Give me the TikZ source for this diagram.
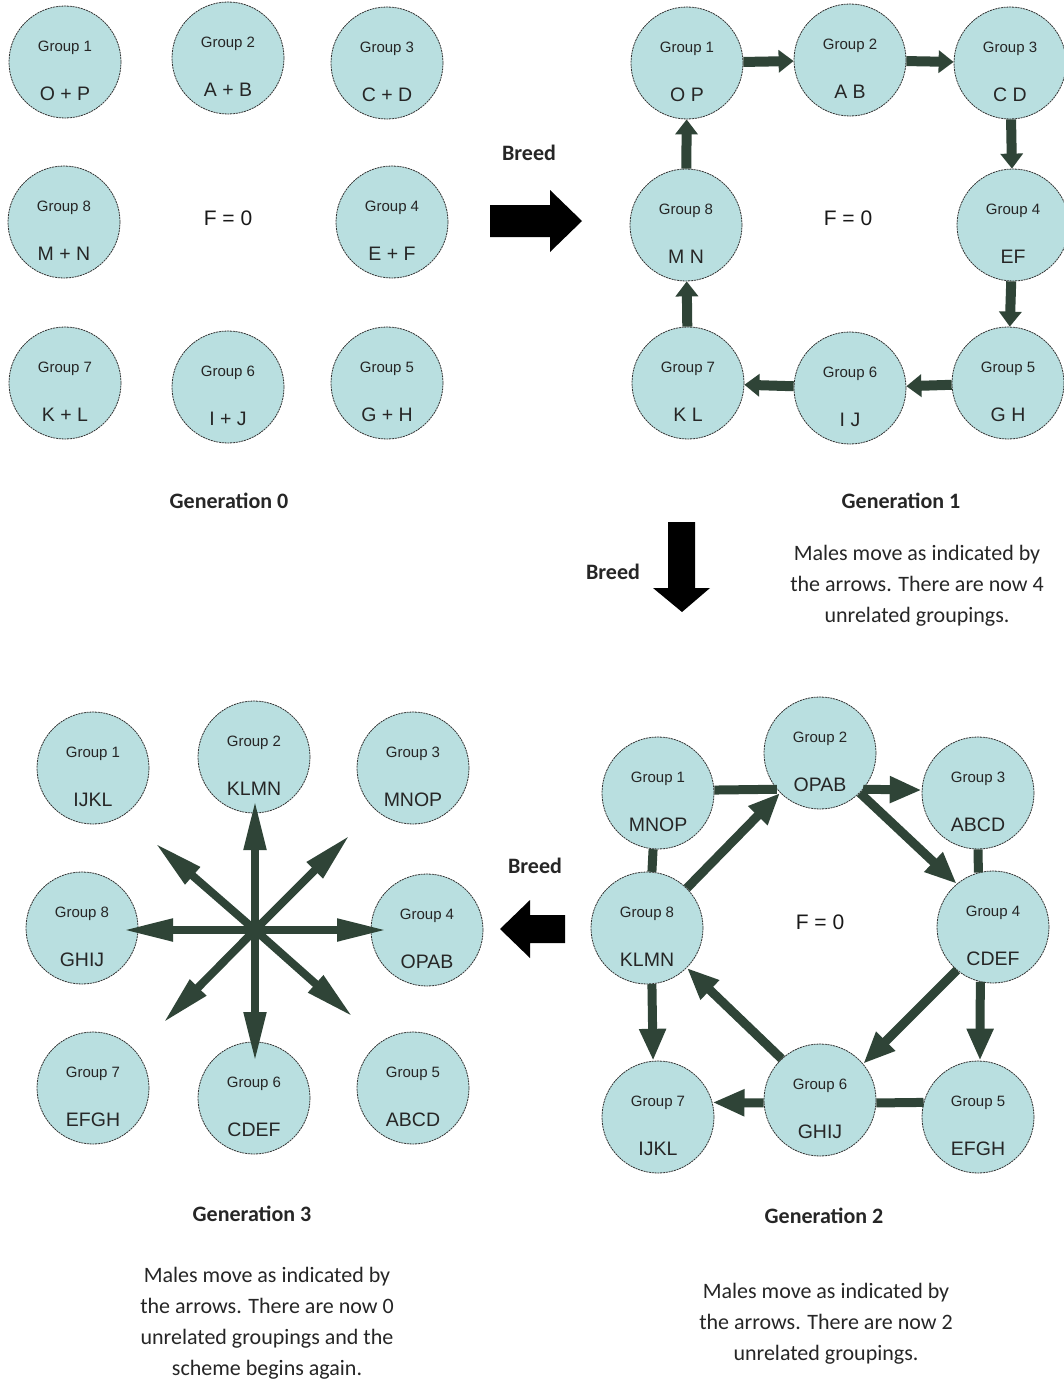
\documentclass[tikz,border=0pt]{standalone}
\usepackage{fontspec}
\setmainfont{Liberation Sans}
\newfontfamily\calibri{Carlito}
\usetikzlibrary{arrows.meta,calc}
\definecolor{cfill}{HTML}{B9DFE0}
\definecolor{ag}{HTML}{2F4437}
\newcommand\grp[5]{%
  \node[grp] (#1) at (#2,#3) {};
  \node[gl] (#1t) at ($(#1)+(0,-14)$) {Group #4};
  \node[ll] (#1l) at ($(#1)+(0,32)$) {#5};
}
\begin{document}
\begin{tikzpicture}[x=1pt,y=-1pt,
  grp/.style={circle, draw=black!80, line width=0.8pt, dash pattern=on 2pt off 0.8pt, fill=cfill, minimum size=112pt, inner sep=0pt},
  gl/.style={font=\fontsize{15}{15}\selectfont, text=black!85, inner sep=0pt},
  ll/.style={font=\fontsize{19.5}{19.5}\selectfont, text=black!85, inner sep=0pt},
  fone/.style={draw=ag, line width=10pt, -{Triangle[length=15pt,width=22pt]}},
  ftwo/.style={draw=ag, line width=9pt, -{Triangle[length=32pt,width=25pt]}},
  bar/.style={draw=ag, line width=9pt},
  ray/.style={draw=ag, line width=8pt, -{Triangle[length=50pt,width=21pt]}},
  feq/.style={font=\fontsize{21}{21}\selectfont, text=black!90},
  capt/.style={font=\calibri\bfseries\fontsize{22}{22}\selectfont, text=black!85},
  para/.style={font=\calibri\fontsize{22}{31}\selectfont, align=center, text=black!85},
  bigarrow/.style={fill=black}
]
\useasboundingbox (0,0) rectangle (1064,1381);
\fill[white] (0,0) rectangle (1064,1381);

% ---------- Generation 0 ----------
\grp{z1}{65}{62}{1}{O + P}
\grp{z2}{228}{58}{2}{A + B}
\grp{z3}{387}{63}{3}{C + D}
\grp{z8}{64}{222}{8}{M + N}
\grp{z4}{392}{222}{4}{E + F}
\grp{z7}{65}{383}{7}{K + L}
\grp{z6}{228}{387}{6}{I + J}
\grp{z5}{387}{383}{5}{G + H}
\node[feq] (f0) at (228,218) {F = 0};
\node[capt] (gen0) at (229,501) {Generation 0};

% ---------- Breed right ----------
\node[capt] (br1) at (529,153) {Breed};
\fill[bigarrow] (490,205) -- (550,205) -- (550,190) -- (582,221) -- (550,252) -- (550,237) -- (490,237) -- cycle;

% ---------- Generation 1 ----------
\grp{a1}{687}{63}{1}{O P}
\grp{a2}{850}{60}{2}{A B}
\grp{a3}{1010}{63}{3}{C D}
\grp{a8}{686}{225}{8}{M N}
\grp{a4}{1013}{225}{4}{EF}
\grp{a7}{688}{383}{7}{K L}
\grp{a6}{850}{388}{6}{I J}
\grp{a5}{1008}{383}{5}{G H}
\node[feq] (f1) at (848,218) {F = 0};
\draw[fone] (a1) -- (a2);
\draw[fone] (a2) -- (a3);
\draw[fone] (a3) -- (a4);
\draw[fone] (a4) -- (a5);
\draw[fone] (a5) -- (a6);
\draw[fone] (a6) -- (a7);
\draw[fone] (a7) -- (a8);
\draw[fone] (a8) -- (a1);
\node[capt] (gen1) at (901,501) {Generation 1};
\node[para] (p1) at (917,586) {Males move as indicated by\\the arrows. There are now 4\\unrelated groupings.};

% ---------- Breed down ----------
\node[capt] (br2) at (613,572) {Breed};
\fill[bigarrow] (668,522) -- (695,522) -- (695,588) -- (710,588) -- (682,612) -- (653,588) -- (668,588) -- cycle;

% ---------- Generation 2 ----------
\grp{b1}{658}{793}{1}{MNOP}
\grp{b2}{820}{753}{2}{OPAB}
\grp{b3}{978}{793}{3}{ABCD}
\grp{b8}{647}{928}{8}{KLMN}
\grp{b4}{993}{927}{4}{CDEF}
\grp{b7}{658}{1117}{7}{IJKL}
\grp{b6}{820}{1100}{6}{GHIJ}
\grp{b5}{978}{1117}{5}{EFGH}
\node[feq] (f2) at (820,922) {F = 0};
\draw[bar] (b1.3) -- (b2.220);
\draw[ftwo] (b2.320) -- (b3.177);
\draw[bar] (b1.265) -- (b8.85);
\draw[bar] (b3.south) -- (b4.105);
\draw[ftwo] (b8.45) -- (b2.225);
\draw[ftwo] (b2.315) -- (b4.130);
\draw[ftwo] (b4.230) -- (b6.40);
\draw[ftwo] (b6.133) -- (b8.315);
\draw[ftwo] (b8.275) -- (b7.95);
\draw[ftwo] (b4.257) -- (b5.88);
\draw[ftwo] (b6.183) -- (b7.15);
\draw[bar] (b6.357) -- (b5.165);
\node[capt] (gen2) at (824,1216) {Generation 2};
\node[para] (p2) at (826,1324) {Males move as indicated by\\the arrows. There are now 2\\unrelated groupings.};

% ---------- Breed left ----------
\node[capt] (br3) at (535,866) {Breed};
\fill[bigarrow] (565,915) -- (530,915) -- (530,900) -- (500,929) -- (530,958) -- (530,943) -- (565,943) -- cycle;

% ---------- Generation 3 ----------
\grp{c1}{93}{768}{1}{IJKL}
\grp{c2}{254}{757}{2}{KLMN}
\grp{c3}{413}{768}{3}{MNOP}
\grp{c8}{82}{928}{8}{GHIJ}
\grp{c4}{427}{930}{4}{OPAB}
\grp{c7}{93}{1088}{7}{EFGH}
\grp{c6}{254}{1098}{6}{CDEF}
\grp{c5}{413}{1088}{5}{ABCD}
\coordinate (ctr) at (255,930);
\coordinate (rn) at (255,800);
\coordinate (rs) at (255,1062);
\coordinate (rw) at (123,930);
\coordinate (re) at (387,930);
\coordinate (rnw) at (155,843);
\coordinate (rse) at (353,1017);
\coordinate (rne) at (350,835);
\coordinate (rsw) at (163,1023);
\foreach \t in {rn,rs,rw,re,rnw,rse,rne,rsw} \draw[ray] (ctr) -- (\t);
\node[capt] (gen3) at (252,1214) {Generation 3};
\node[para] (p3) at (267,1323) {Males move as indicated by\\the arrows. There are now 0\\unrelated groupings and the\\scheme begins again.};
\end{tikzpicture}
\end{document}
